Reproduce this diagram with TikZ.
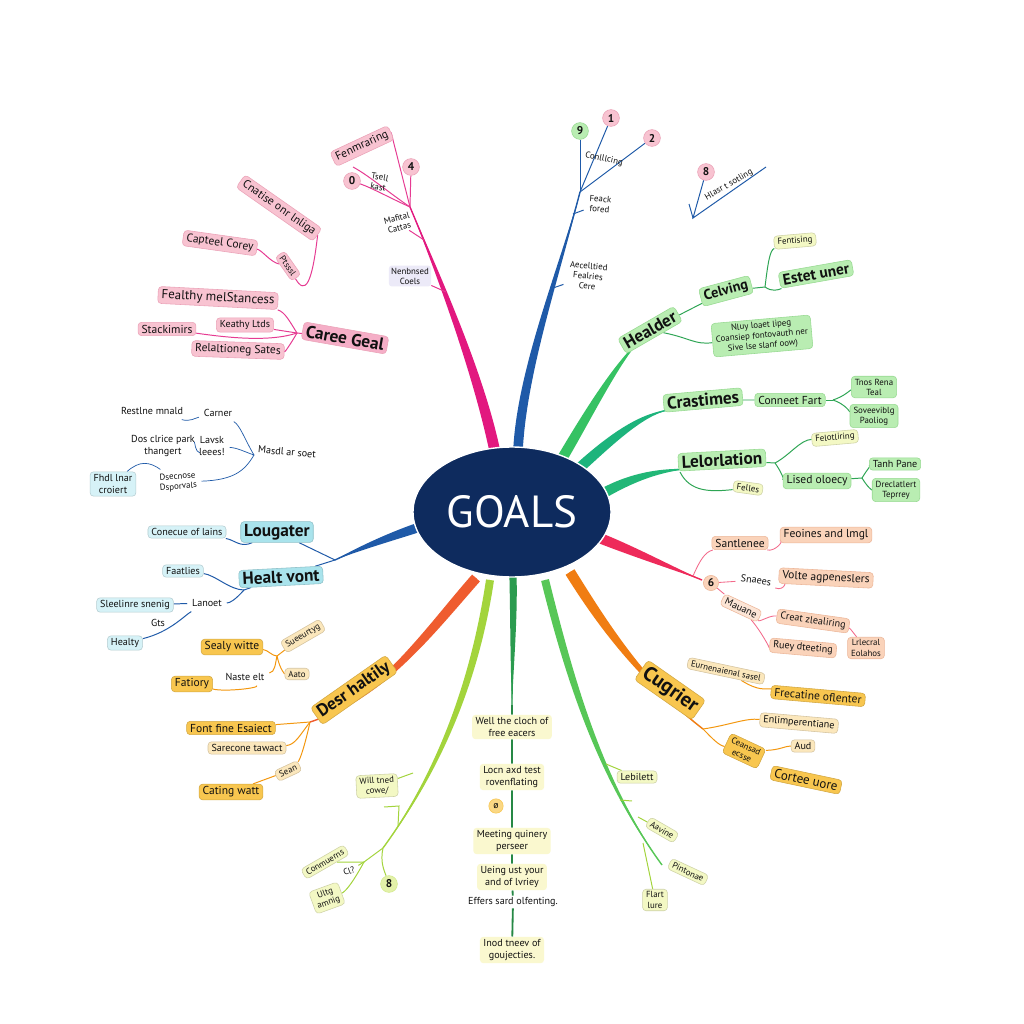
\documentclass[tikz,border=0pt]{standalone}
\usepackage{fontspec}
\setmainfont{PT Sans}
\usetikzlibrary{calc,shapes.geometric}
\pgfdeclarelayer{back}
\pgfdeclarelayer{bg}
\pgfsetlayers{back,bg,main}
\definecolor{pkF}{HTML}{F8C3D1}
\definecolor{pkD}{HTML}{EBA3B8}
\definecolor{mag}{HTML}{E2187F}
\definecolor{blu}{HTML}{1F5AA8}
\definecolor{grn}{HTML}{36C263}
\definecolor{grF}{HTML}{B9EDB2}
\definecolor{grD}{HTML}{98DA92}
\definecolor{ylF}{HTML}{F3F8C4}
\definecolor{tlc}{HTML}{1DB47C}
\definecolor{rdb}{HTML}{EE2A5A}
\definecolor{saF}{HTML}{FAD3BA}
\definecolor{saD}{HTML}{EDB79A}
\definecolor{orb}{HTML}{F07D12}
\definecolor{orF}{HTML}{F8C64F}
\definecolor{orL}{HTML}{FBE7BC}
\definecolor{cyF}{HTML}{A9E3EC}
\definecolor{cyL}{HTML}{D6F2F7}
\definecolor{ygb}{HTML}{A3D43C}
\definecolor{bcF}{HTML}{FAF8CF}
\definecolor{navy}{HTML}{0E2B5E}
\definecolor{lvF}{HTML}{ECEAF8}
\definecolor{txt}{HTML}{111111}
\newcommand\tbranch[7]{%
  \fill[#1] ($(#2)!#6!90:(#3)$) .. controls ($(#3)!#6!-90:(#2)$) and ($(#4)!#7!-90:(#3)$) .. (#5)
    .. controls ($(#4)!#7!90:(#3)$) and ($(#3)!#6!90:(#2)$) .. ($(#2)!#6!-90:(#3)$) -- cycle;
  \draw[#1, line width=1pt] (#2) .. controls (#3) and (#4) .. (#5);
}
\tikzset{
 f6/.style={font=\fontsize{6.3}{7.2}\selectfont},
 f7/.style={font=\fontsize{7.2}{8.6}\selectfont},
 f8/.style={font=\fontsize{8.2}{9}\selectfont},
 f9/.style={font=\fontsize{9.2}{10}\selectfont},
 f10/.style={font=\fontsize{10.2}{11}\selectfont\bfseries},
 f11/.style={font=\fontsize{11}{12}\selectfont\bfseries},
 f12/.style={font=\fontsize{12.3}{13}\selectfont\bfseries},
 f14/.style={font=\fontsize{14.5}{16}\selectfont\bfseries},
 bx/.style={rounded corners=2.5pt, inner xsep=2.5pt, inner ysep=1.8pt, align=center, text=txt, line width=0.4pt},
 pk/.style={bx, fill=pkF, draw=pkD},
 gr/.style={bx, fill=grF, draw=grD},
 yl/.style={bx, fill=ylF, draw=ylF!85!black},
 sa/.style={bx, fill=saF, draw=saD},
 or/.style={bx, fill=orF, draw=orF!85!black},
 orl/.style={bx, fill=orL, draw=orL!85!black},
 cy/.style={bx, fill=cyF, draw=cyF!85!black},
 cyl/.style={bx, fill=cyL, draw=cyL!85!black},
 bc/.style={bx, fill=bcF},
 circ/.style={circle, inner sep=0pt, minimum size=4.2mm, text=txt, font=\fontsize{8}{9}\selectfont\bfseries},
 lpk/.style={draw=mag!85, line width=0.7pt},
 lbl/.style={draw=blu, line width=0.7pt},
 lgr/.style={draw=grn!85!black, line width=0.7pt},
 lsa/.style={draw=rdb!70, line width=0.6pt},
 lor/.style={draw=orb!80!yellow, line width=0.7pt},
 lyg/.style={draw=ygb, line width=0.7pt},
}
\begin{document}
\begin{tikzpicture}[x=0.25mm,y=-0.25mm]
\begin{pgfonlayer}{back}
\fill[white] (0,0) rectangle (1024,1024);
\end{pgfonlayer}
\useasboundingbox (0,0) rectangle (1024,1024);

% centre
\node[ellipse, fill=navy, draw=white, line width=1pt, minimum width=44mm, minimum height=32.5mm,
      text=white, font=\fontsize{32}{34}\selectfont] (goals) at (512,512) {GOALS};

% ---------- pink group (top left)
\node[pk,f8,rotate=-35] (pcn) at (279,208) {Cnatise onr lnliga};
\node[pk,f8,rotate=-8] (pcc) at (220,243) {Capteel Corey};
\node[pk,f6,rotate=-55] (pps) at (288,266) {Ptsssl};
\node[pk,f9,rotate=-3] (pfm) at (218,298) {Fealthy melStancess};
\node[pk,f8] (pst) at (167,329) {Stackimirs};
\node[pk,f7] (pkl) at (245,325) {Keathy Ltds};
\node[pk,f8,rotate=-2] (prs) at (238,350) {Relaltioneg Sates};
\node[pk,f12,rotate=-10,fill=pkF!88!mag] (pcg) at (345,338) {Caree Geal};
\coordinate (pj) at (297,333);

% ---------- magenta top
\node[pk,f8,rotate=25] (tmf) at (362,146) {Fenmraring};
\node[circ,fill=pkF,draw=pkD] (tm4) at (411,167) {4};
\node[circ,fill=pkF,draw=pkD] (tm0) at (352,181) {0};
\node[f6,rotate=-10,align=center,text=txt] (tcl) at (379,182) {Tsell\\kast};
\node[f6,rotate=15,align=center,fill=white,text=txt,inner sep=1pt] (tmc) at (398,223) {Mafital\\Cattas};
\node[f6,align=center,fill=lvF,rounded corners=2pt,text=txt,inner sep=1.5pt] (tnc) at (410,276) {Nenbnsed\\Coels};
\coordinate (tj) at (410,207);
\coordinate (tfree) at (353,167);
\coordinate (tk1) at (424,240);
\coordinate (tk2) at (446,292);
\coordinate (mS) at (495,452);

% ---------- blue top
\node[circ,fill=grF,draw=grD] (bt9) at (580,131) {9};
\node[circ,fill=pkF,draw=pkD] (bt1) at (611,118) {1};
\node[circ,fill=pkF,draw=pkD] (bt2) at (652,138) {2};
\node[f6,rotate=-12,text=txt] (btc) at (604,159) {Conlllcing};
\node[f6,align=center,rotate=-5,text=txt] (btf) at (600,204) {Feack\\fored};
\node[f6,align=center,rotate=-5,text=txt] (bta) at (588,276) {Aecelltied\\Fealries\\Cere};
\coordinate (bj) at (580,192);
\coordinate (bS) at (518,450);
\coordinate (bk1) at (573,214);
\coordinate (bk2) at (553,288);
\node[circ,fill=pkF,draw=pkD] (bt8) at (706,172) {8};
\node[f6,rotate=30,text=txt] (bth) at (729,185) {Hlasr t sotling};
\coordinate (ck1) at (693,218);
\coordinate (ck2) at (766,167);
\coordinate (ck3) at (689,204);

% ---------- green top right
\node[gr,f12,rotate=30] (ghd) at (650,330) {Healder};
\node[gr,f10,rotate=15] (gcv) at (726,291) {Celving};
\node[yl,f6,rotate=5] (gfs) at (795,241) {Fentising};
\node[gr,f11,rotate=10] (ges) at (816,274) {Estet uner};
\node[gr,f6,rotate=5] (gnl) at (762,336) {Nluy loaet lipeg\\Coansiep fontovauth ner\\Sive lse slanf oow)};
\coordinate (gj) at (765,287);
\coordinate (gS) at (560,462);
\coordinate (gE) at (640,340);

% ---------- green right
\node[gr,f12,rotate=5] (gcr) at (703,400) {Crastimes};
\node[gr,f8] (gcf) at (790,400) {Conneet Fart};
\node[gr,f6] (gtr) at (874,387) {Tnos Rena\\Teal};
\node[gr,f6] (gsp) at (874,416) {Soveeviblg\\Paoliog};
\coordinate (gcj) at (833,400);
\coordinate (g2S) at (575,472);
\coordinate (g2E) at (668,410);
\node[gr,f12,rotate=3] (gll) at (722,460) {Lelorlation};
\node[yl,f6,rotate=5] (gfl) at (835,438) {Felotliring};
\node[gr,f8] (glo) at (817,481) {Lised oloecy};
\node[gr,f7] (gtp) at (895,464) {Tanh Pane};
\node[gr,f6] (gdt) at (896,490) {Dreclatlert\\Teprrey};
\node[yl,f6,rotate=-8] (gfe) at (748,488) {Felles};
\coordinate (glj) at (775,463);
\coordinate (goj) at (862,478);
\coordinate (gfj) at (680,472);
\coordinate (g3S) at (597,497);
\coordinate (g3E) at (688,469);

% ---------- salmon right
\node[circ,fill=saF,draw=saD,minimum size=3.8mm] (sc) at (711,583) {6};
\node[sa,f8] (ssa) at (740,543) {Santlenee};
\node[sa,f8] (sfa) at (826,535) {Feoines and lmgl};
\node[f7,rotate=-8,text=txt] (ssn) at (756,580) {Snaees};
\node[sa,f8,rotate=-3] (sva) at (826,578) {Volte agpeneslers};
\node[sa,f7,rotate=-25,fill=saF!60] (sma) at (741,608) {Mauane};
\node[sa,f7,rotate=-8] (scz) at (813,621) {Creat zlealiring};
\node[sa,f7,rotate=-5] (sru) at (803,648) {Ruey dteeting};
\node[sa,f6] (sle) at (866,648) {Lrlecral\\Eolahos};
\coordinate (sS) at (597,537);
\coordinate (sE) at (702,580);
\coordinate (srj) at (693,576);

% ---------- orange right
\node[or,f14,rotate=-35] (ocu) at (670,690) {Cugrier};
\node[orl,f6,rotate=-12] (oeu) at (726,671) {Eurnenaienal sasel};
\node[or,f8,rotate=-5] (ofr) at (818,696) {Frecatine oflenter};
\node[orl,f7,rotate=-5] (oen) at (799,723) {Enlimperentiane};
\node[or,f6,rotate=-25] (oce) at (744,751) {Ceansad\\ecsse};
\node[orl,f7] (oau) at (803,746) {Aud};
\node[or,f9,rotate=-12] (oco) at (806,780) {Cortee uore};
\coordinate (oS) at (570,572);
\coordinate (ocj) at (703,729);

% ---------- bottom centre
\node[bc,f7] (bw1) at (512,727) {Well the cloch of\\free eacers};
\node[bc,f7] (bw2) at (512,777) {Locn axd test\\rovenflating};
\node[circ,fill=orF!70,draw=orF,minimum size=3.6mm,font=\fontsize{7}{8}\selectfont] (bwc) at (496,806) {ø};
\node[bc,f7] (bw3) at (512,841) {Meeting quinery\\perseer};
\node[bc,f7] (bw4) at (512,877) {Ueing ust your\\and of lvriey};
\node[f7,fill=white,text=txt,inner sep=1pt] (bw5) at (513,902) {Effers sard olfenting.};
\node[bc,f7] (bw6) at (512,950) {Inod tneev of\\goujecties.};
\coordinate (cS) at (513,576);
\coordinate (bcj) at (512,705);

% ---------- bottom left yellow-green
\node[yl,f6,rotate=3] (ywt) at (377,786) {Will tned\\cowe/};
\node[yl,f6,rotate=30] (ycm) at (325,862) {Conmuerns};
\node[f6,rotate=20,text=txt] (ycl) at (349,871) {Cl?};
\node[yl,f6,rotate=20] (yug) at (327,898) {Ultg\\amnig};
\node[circ,fill=ylF!80!ygb,draw=ylF!60!ygb] (y8) at (389,884) {8};
\coordinate (yS) at (490,580);
\coordinate (ylj) at (383,848);
\coordinate (yj2) at (364,862);
\coordinate (ywk) at (413,773);
\coordinate (ya1) at (399,806);
\coordinate (ya2) at (384,807);
\coordinate (ya3) at (398,826);

% ---------- bottom right green
\node[yl,f7] (grl) at (637,777) {Lebilett};
\node[yl,f6,rotate=-30] (grp) at (662,830) {Aavine};
\node[yl,f6,rotate=-25] (gpn) at (688,872) {Pintonae};
\node[yl,f6] (grf) at (655,900) {Flart\\lure};
\coordinate (rS) at (545,580);
\coordinate (grj) at (662,865);
\coordinate (grk1) at (606,764);
\coordinate (grk2) at (620,800);
\coordinate (grk2b) at (632,801);
\coordinate (grk3) at (638,817);
\coordinate (grk4) at (643,843);

% ---------- left orange
\node[or,f12,rotate=35] (odh) at (354,690) {Desr haltily};
\node[or,f8] (off) at (231,728) {Font fine Esaiect};
\node[orl,f7] (osa) at (247,748) {Sarecone tawact};
\node[orl,f6,rotate=25] (ose) at (288,771) {Sean};
\node[or,f8] (oca) at (231,792) {Cating watt};
\node[or,f8] (osw) at (232,647) {Sealy witte};
\node[orl,f6,rotate=30] (osu) at (303,636) {Sueeurtyg};
\node[or,f8] (ofa) at (192,684) {Fatiory};
\node[f7,text=txt] (ona) at (245,677) {Naste elt};
\node[orl,f6] (oaa) at (297,674) {Aato};
\coordinate (odS) at (476,578);
\coordinate (odj) at (310,722);
\coordinate (ouj) at (277,656);

% ---------- left cyan
\node[cy,f12] (cla) at (277,532) {Lougater};
\node[cyl,f7] (ccl) at (187,532) {Conecue of lains};
\node[cy,f12,rotate=3] (chv) at (281,577) {Healt vont};
\node[cyl,f7] (cfa) at (183,571) {Faatlies};
\node[f7,text=txt] (cln) at (207,603) {Lanoet};
\node[cyl,f7] (csl) at (135,605) {Sleelinre snenig};
\node[f7,text=txt] (cgt) at (158,623) {Gts};
\node[cyl,f7] (chy) at (125,643) {Healty};
\coordinate (clS) at (426,525);
\coordinate (cj) at (335,560);
\coordinate (chj) at (244,590);

% ---------- left blue group
\node[f7,text=txt] (lrm) at (152,411) {Restlne mnald};
\node[f7,text=txt] (lca) at (218,413) {Carner};
\node[f7,align=center,text=txt] (ldp) at (163,446) {Dos clrice park\\thangert};
\node[f7,align=center,text=txt] (llv) at (212,446) {Lavsk\\leees!};
\node[f7,rotate=-5,text=txt] (lms) at (287,452) {Masdl ar soet};
\node[cyl,f7] (lfh) at (113,484) {Fhdl lnar\\croiert};
\node[f6,align=center,rotate=5,text=txt] (lds) at (178,482) {Dsecnose\\Dsporvals};
\coordinate (lj) at (254,455);

\begin{pgfonlayer}{bg}
% main branches
\tbranch{mag}{mS}{480,380}{445,290}{tj}{1.35mm}{0.5mm}
\tbranch{blu}{bS}{522,370}{560,270}{bj}{1.2mm}{0.45mm}
\tbranch{grn}{gS}{585,420}{615,365}{gE}{1.3mm}{0.6mm}
\tbranch{tlc}{g2S}{610,440}{640,415}{g2E}{1.3mm}{0.6mm}
\tbranch{tlc!80!grn}{g3S}{625,480}{655,470}{g3E}{1.3mm}{0.6mm}
\tbranch{rdb}{sS}{630,550}{665,565}{sE}{1.3mm}{0.5mm}
\tbranch{orb}{oS}{600,620}{640,680}{ocj}{1.3mm}{0.6mm}
\tbranch{grn!80!black}{cS}{514,620}{512,660}{bcj}{0.9mm}{0.45mm}
\tbranch{ygb}{yS}{475,680}{440,770}{ylj}{1.0mm}{0.45mm}
\tbranch{grn!70!ygb}{rS}{570,680}{600,780}{grj}{1.0mm}{0.45mm}
\tbranch{orb!60!rdb}{odS}{430,630}{380,700}{odj}{1.3mm}{0.6mm}
\tbranch{blu}{clS}{395,535}{360,548}{cj}{1.2mm}{0.5mm}

% pink connectors
\draw[lpk] (pcc) .. controls (262,250) and (270,262) .. (pps);
\draw[lpk] (pps) .. controls (305,295) and (312,285) .. (pcn.east);
\draw[lpk] (pcg) -- (pj);
\draw[lpk] (pj) .. controls (290,322) and (285,312) .. (pfm.south east);
\draw[lpk] (pj) -- (pkl);
\draw[lpk] (pj) .. controls (270,342) and (230,338) .. (pst);
\draw[lpk] (pj) .. controls (290,345) and (285,352) .. (prs);
% magenta top connectors
\draw[lpk] (tj) -- (tmf.east);
\draw[lpk] (tj) -- (tm4);
\draw[lpk] (tj) .. controls (390,198) and (372,188) .. (tm0);
\draw[lpk] (tj) .. controls (388,192) and (368,175) .. (tfree);
\draw[lpk] (tk1) -- (tmc);
\draw[lpk] (tk2) -- (tnc);
% blue top connectors
\draw[lbl] (bj) -- (bt9);
\draw[lbl] (bj) -- (bt1);
\draw[lbl] (bj) -- (bt2);
\draw[lbl] (bk1) -- (btf);
\draw[lbl] (bk2) -- (bta);
\draw[lbl] (bt8) -- (ck1) -- (ck2);
\draw[lbl] (ck3) -- (ck1);
% green top right
\draw[lgr] (ghd) -- (gcv);
\draw[lgr] (gcv) -- (gj);
\draw[lgr] (gj) .. controls (768,262) and (770,250) .. (gfs);
\draw[lgr] (gj) .. controls (772,292) and (778,290) .. (ges);
\draw[lgr] (ghd) .. controls (690,338) and (695,345) .. (gnl);
% green right
\draw[lgr] (gcr) -- (gcf);
\draw[lgr] (gcf) -- (gcj);
\draw[lgr] (gcj) .. controls (845,396) and (850,390) .. (gtr);
\draw[lgr] (gcj) .. controls (845,404) and (850,412) .. (gsp);
\draw[lgr] (gll) -- (glj);
\draw[lgr] (glj) .. controls (790,455) and (800,440) .. (gfl);
\draw[lgr] (glj) .. controls (780,470) and (785,480) .. (glo);
\draw[lgr] (glo) -- (goj);
\draw[lgr] (goj) .. controls (868,468) and (872,465) .. (gtp);
\draw[lgr] (goj) .. controls (868,488) and (872,490) .. (gdt);
\draw[lgr] (gfj) .. controls (690,492) and (710,492) .. (gfe);
% salmon
\draw[lsa] (srj) .. controls (700,560) and (705,552) .. (ssa);
\draw[lsa] (ssa) .. controls (775,552) and (785,540) .. (sfa);
\draw[lsa] (sc) -- (ssn);
\draw[lsa] (ssn) .. controls (785,592) and (790,578) .. (sva);
\draw[lsa] (sc) -- (sma);
\draw[lsa] (sma) .. controls (760,622) and (770,615) .. (scz);
\draw[lsa] (sma) .. controls (760,630) and (770,648) .. (sru);
\draw[lsa] (scz) .. controls (850,628) and (855,635) .. (sle);
% orange right
\draw[lor] (oeu) .. controls (760,692) and (765,688) .. (ofr);
\draw[lor] (ocj) .. controls (730,725) and (745,718) .. (oen);
\draw[lor] (ocj) .. controls (712,738) and (718,745) .. (oce);
\draw[lor] (oce) .. controls (780,750) and (785,746) .. (oau);
% bottom centre
\draw[draw=grn!70!black, line width=1.3pt] (bcj) -- (bw1) -- (bw2) -- (bw3) -- (bw4) -- (bw5) -- (bw6);
% bottom left
\draw[lyg] (ylj) -- (yj2);
\draw[lyg] (ywk) -- (ywt);
\draw[lyg] (ya2) -- (ya1) -- (ya3);
\draw[lyg] (yj2) -- (ycm);
\draw[lyg] (yj2) -- (ycl);
\draw[lyg] (yj2) .. controls (352,884) and (345,892) .. (yug);
\draw[lyg] (ylj) .. controls (380,862) and (384,870) .. (y8);
% bottom right
\draw[lyg] (grk1) -- (grl);
\draw[lyg] (grk2) -- (grk2b);
\draw[lyg] (grk3) -- (grp);
\draw[lyg] (grk4) -- (grf);
% left orange
\draw[lor] (odj) -- (off);
\draw[lor] (odj) .. controls (300,735) and (295,745) .. (osa);
\draw[lor] (odj) .. controls (305,745) and (300,760) .. (ose);
\draw[lor] (ose) -- (oca);
\draw[lor] (osw) .. controls (268,650) and (272,656) .. (ouj) -- (osu);
\draw[lor] (ona) .. controls (275,672) and (275,665) .. (ouj);
\draw[lor] (ouj) .. controls (280,670) and (285,674) .. (oaa);
\draw[lor] (ofa) .. controls (225,692) and (260,688) .. (ona);
% left cyan
\draw[lbl] (cj) -- (cla);
\draw[lbl] (cj) -- (chv);
\draw[lbl] (cla) .. controls (240,548) and (235,540) .. (ccl);
\draw[lbl] (chv) -- (chj);
\draw[lbl] (cfa) .. controls (215,575) and (230,590) .. (chj);
\draw[lbl] (chj) .. controls (235,600) and (230,603) .. (cln);
\draw[lbl] (cln) -- (csl);
\draw[lbl] (cln) .. controls (185,615) and (170,632) .. (chy);
% left blue group
\draw[lbl, line width=0.5pt] (lrm) .. controls (190,422) and (195,418) .. (lca);
\draw[lbl, line width=0.5pt] (lca) .. controls (240,425) and (245,440) .. (lj);
\draw[lbl, line width=0.5pt] (lj) -- (lms);
\draw[lbl, line width=0.5pt] (lj) .. controls (245,452) and (238,448) .. (llv);
\draw[lbl, line width=0.5pt] (lj) .. controls (245,470) and (235,480) .. (lds);
\draw[lbl, line width=0.5pt] (ldp) .. controls (195,452) and (195,442) .. (llv);
\draw[lbl, line width=0.5pt] (lfh) .. controls (140,460) and (150,462) .. (lds);
\end{pgfonlayer}
\end{tikzpicture}
\end{document}
